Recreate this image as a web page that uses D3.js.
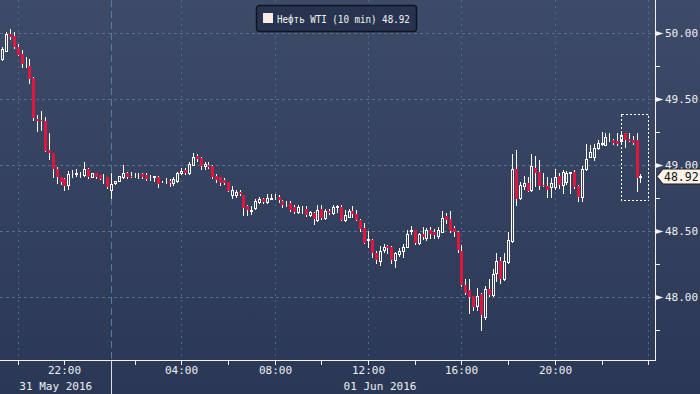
<!DOCTYPE html>
<html>
<head>
<meta charset="utf-8">
<script src="https://cdn.jsdelivr.net/npm/d3@7/dist/d3.min.js"></script>
<style>
body { margin: 0; background: #2b3956; }
svg { display: block; }
text { font-family: "DejaVu Sans Mono", "Liberation Mono", monospace; }
</style>
</head>
<body>
<div id="chart"></div>
<script>
// WTI 10-minute candles, 31 May 19:10 -> 01 Jun 23:40 (Moscow time), break 00:00-01:00
var seriesName = "Нефть WTI (10 min)";
var firstBar = "2016-05-31 19:10";
var sessionStart = "2016-05-31 20:00";
var sessionBreak = ["2016-06-01 00:00", "2016-06-01 01:00"];

var opens = [49.79,49.805,49.868,49.995,49.98,49.894,49.843,49.76,49.752,49.661,49.35,49.343,49.333,49.115,49.09,48.973,48.908,48.893,48.847,48.93,48.935,48.93,48.928,48.969,48.912,48.938,48.923,48.907,48.908,
  48.81,48.862,48.882,48.908,48.938,48.92,48.915,48.915,48.933,48.923,48.915,48.91,48.908,48.872,48.872,48.878,48.862,48.878,48.938,48.963,48.943,49.003,49.069,49.054,48.99,49.004,48.994,48.918,48.908,48.887,48.872,
  48.77,48.77,48.796,48.77,48.69,48.655,48.675,48.72,48.745,48.72,48.745,48.75,48.756,48.73,48.71,48.71,48.68,48.645,48.68,48.665,48.62,48.64,48.58,48.665,48.595,48.655,48.635,48.685,48.68,48.585,48.61,48.65,48.63,
  48.585,48.525,48.435,48.432,48.33,48.27,48.356,48.385,48.375,48.28,48.325,48.345,48.38,48.50,48.504,48.412,48.475,48.45,48.505,48.49,48.465,48.495,48.614,48.59,48.525,48.495,48.346,48.088,48.053,48.007,47.93,
  48.022,47.85,48.058,48.017,48.185,48.27,48.134,48.265,48.427,48.968,48.75,48.838,48.862,48.811,48.978,48.948,48.85,48.842,48.832,48.832,48.918,48.85,48.872,48.94,48.948,48.842,48.756,48.968,49.064,49.064,49.13,
  49.16,49.15,49.195,49.19,49.18,49.18,49.24,49.20,49.19,49.19,48.912];
var highs = [49.82,49.90,50.01,50.03,50.008,49.92,49.874,49.82,49.803,49.665,49.383,49.413,49.363,49.246,49.095,48.984,48.91,48.90,48.958,48.963,48.968,48.948,49.024,48.975,48.94,48.94,48.925,48.933,48.91,
  48.938,48.88,48.92,49.0,48.945,48.95,48.943,48.938,48.94,48.938,48.925,48.92,48.915,48.883,48.90,48.897,48.91,48.95,48.978,48.978,49.024,49.09,49.085,49.06,49.024,49.024,49.0,48.93,48.91,48.90,48.875,
  48.842,48.811,48.811,48.775,48.70,48.69,48.745,48.76,48.75,48.78,48.78,48.78,48.77,48.735,48.73,48.73,48.70,48.70,48.69,48.69,48.65,48.645,48.695,48.695,48.665,48.67,48.70,48.70,48.70,48.66,48.67,48.69,48.66,
  48.59,48.56,48.50,48.44,48.35,48.385,48.40,48.395,48.385,48.34,48.37,48.40,48.508,48.54,48.51,48.485,48.53,48.52,48.53,48.515,48.53,48.655,48.635,48.65,48.54,48.50,48.39,48.134,48.134,48.01,48.068,
  48.03,48.08,48.134,48.21,48.33,48.30,48.33,48.493,49.085,49.115,48.872,48.92,48.91,49.085,49.07,49.04,48.943,48.913,48.90,48.973,48.943,48.963,48.958,48.95,48.963,48.85,48.99,49.16,49.15,49.16,49.19,
  49.25,49.24,49.245,49.20,49.245,49.25,49.245,49.24,49.22,49.245,48.935];
var lows = [49.77,49.798,49.866,49.96,49.89,49.835,49.747,49.747,49.626,49.343,49.257,49.267,49.105,49.044,48.912,48.867,48.86,48.811,48.817,48.912,48.918,48.908,48.92,48.905,48.908,48.905,48.893,48.867,48.83,
  48.751,48.855,48.88,48.905,48.90,48.91,48.908,48.90,48.905,48.89,48.887,48.88,48.836,48.87,48.865,48.842,48.85,48.875,48.93,48.935,48.935,49.0,49.03,48.968,48.97,48.978,48.905,48.87,48.85,48.855,48.80,
  48.75,48.76,48.77,48.62,48.625,48.63,48.67,48.715,48.715,48.715,48.74,48.745,48.72,48.685,48.69,48.655,48.64,48.635,48.635,48.615,48.615,48.555,48.575,48.59,48.59,48.63,48.63,48.645,48.58,48.575,48.605,48.61,48.58,
  48.50,48.41,48.38,48.30,48.255,48.245,48.34,48.33,48.255,48.23,48.31,48.305,48.375,48.48,48.405,48.405,48.44,48.43,48.445,48.45,48.45,48.49,48.56,48.495,48.465,48.34,48.085,48.02,47.88,47.90,47.90,
  47.75,47.83,48.01,48.01,48.12,48.104,48.125,48.26,48.42,48.70,48.745,48.82,48.80,48.805,48.84,48.817,48.84,48.76,48.76,48.82,48.83,48.79,48.86,48.79,48.83,48.73,48.73,48.96,49.06,49.04,49.12,
  49.15,49.15,49.18,49.16,49.155,49.16,49.135,49.18,49.16,48.806,48.87];
var closes = [49.80,49.881,49.995,49.97,49.894,49.838,49.767,49.762,49.656,49.358,49.333,49.333,49.11,49.094,48.968,48.908,48.872,48.842,48.933,48.933,48.938,48.933,48.973,48.912,48.938,48.908,48.897,48.91,48.832,
  48.857,48.877,48.918,48.943,48.908,48.915,48.918,48.918,48.908,48.897,48.918,48.918,48.857,48.875,48.875,48.862,48.897,48.943,48.953,48.943,49.009,49.064,49.044,48.99,49.009,48.984,48.908,48.887,48.862,48.862,48.806,
  48.811,48.796,48.78,48.675,48.66,48.66,48.73,48.74,48.72,48.75,48.75,48.752,48.736,48.695,48.712,48.66,48.645,48.684,48.682,48.62,48.645,48.59,48.66,48.595,48.65,48.635,48.68,48.69,48.585,48.62,48.65,48.63,48.585,
  48.513,48.412,48.44,48.33,48.28,48.347,48.38,48.37,48.28,48.33,48.35,48.38,48.478,48.504,48.412,48.478,48.455,48.504,48.475,48.468,48.505,48.60,48.584,48.50,48.495,48.356,48.088,48.028,48.002,47.926,48.007,
  47.86,48.058,48.018,48.175,48.27,48.134,48.27,48.432,48.968,48.745,48.85,48.862,48.806,48.994,48.943,48.842,48.847,48.81,48.862,48.908,48.85,48.948,48.938,48.948,48.832,48.756,48.968,49.05,49.10,49.13,49.165,
  49.165,49.21,49.198,49.165,49.16,49.225,49.19,49.185,49.165,48.90,48.92];

var priceTicks = [48.0, 48.5, 49.0, 49.5, 50.0];
var minorPriceTicks = [47.75, 48.25, 48.75, 49.25, 49.75];
var gridTimes = ["2016-05-31 20:00", "2016-06-01 04:00", "2016-06-01 08:00", "2016-06-01 12:00",
  "2016-06-01 16:00", "2016-06-01 20:00", "2016-06-02 00:00"];
var dayBreak = "2016-06-01 00:00";
var tickTimes = ["2016-05-31 20:00", "2016-05-31 22:00", "2016-06-01 00:00", "2016-06-01 02:00", "2016-06-01 04:00",
  "2016-06-01 06:00", "2016-06-01 08:00", "2016-06-01 10:00", "2016-06-01 12:00", "2016-06-01 14:00",
  "2016-06-01 16:00", "2016-06-01 18:00", "2016-06-01 20:00", "2016-06-01 22:00", "2016-06-02 00:00"];
var timeLabels = ["2016-05-31 22:00", "2016-06-01 04:00", "2016-06-01 08:00", "2016-06-01 12:00",
  "2016-06-01 16:00", "2016-06-01 20:00"];
var dayLabels = ["31 May 2016", "01 Jun 2016"];
// dotted box around the last bars
var highlightTimes = ["2016-06-01 22:50", "2016-06-02 00:00"];
var highlightPrices = [49.39, 48.735];

var W = 700, H = 394;
var plotRight = 655.5, plotBottom = 360.5;

var parse = d3.timeParse("%Y-%m-%d %H:%M");
var t0 = parse(sessionStart), b0 = parse(sessionBreak[0]), b1 = parse(sessionBreak[1]);

// minutes of trading since session start (the break takes no room)
function sessionMinutes(t) {
  var m = (t - t0) / 60000;
  if (t >= b1) m -= (b1 - b0) / 60000;
  else if (t > b0) m = (b0 - t0) / 60000;
  return m;
}

// bar times
var bars = [];
var t = parse(firstBar);
while (bars.length < opens.length) {
  if (!(t >= b0 && t < b1)) {
    var k = bars.length;
    bars.push({ time: t, o: opens[k], h: highs[k], l: lows[k], c: closes[k] });
  }
  t = d3.timeMinute.offset(t, 10);
}

var x = d3.scaleLinear().domain([0, 1620]).range([18.3, 648.7]);
var y = d3.scaleLinear().domain([47.521, 50.253]).range([360, 0]);
function px(d) { return Math.floor(x(sessionMinutes(d))) + 0.5; }
function py(v) { return Math.round(y(v)) + 0.5; }

var svg = d3.select("#chart").append("svg").attr("width", W).attr("height", H);
var defs = svg.append("defs");
var grad = defs.append("linearGradient").attr("id", "bg")
  .attr("gradientUnits", "userSpaceOnUse").attr("x1", 0).attr("y1", 0).attr("x2", 0).attr("y2", H);
grad.append("stop").attr("offset", 0).attr("stop-color", "#3e4b68");
grad.append("stop").attr("offset", 1).attr("stop-color", "#2a3855");
defs.append("clipPath").attr("id", "plot").append("rect")
  .attr("x", 0).attr("y", 0).attr("width", plotRight).attr("height", plotBottom);
defs.append("clipPath").attr("id", "abovetag").append("rect")
  .attr("x", 600).attr("y", 0).attr("width", 100).attr("height", 169);

svg.append("rect").attr("width", W).attr("height", H).attr("fill", "url(#bg)");

// grid
var grid = svg.append("g").attr("shape-rendering", "crispEdges");
grid.selectAll("line.h").data(priceTicks).enter().append("line")
  .attr("x1", 0).attr("x2", plotRight)
  .attr("y1", function(d) { return py(d); }).attr("y2", function(d) { return py(d); })
  .attr("stroke", "#56708d").attr("stroke-dasharray", "3,3");
grid.selectAll("line.v").data(gridTimes).enter().append("line")
  .attr("x1", function(d) { return px(parse(d)); }).attr("x2", function(d) { return px(parse(d)); })
  .attr("y1", 0).attr("y2", plotBottom)
  .attr("stroke", "#4c6987").attr("stroke-dasharray", "2,4");
grid.append("line")
  .attr("x1", px(parse(dayBreak))).attr("x2", px(parse(dayBreak)))
  .attr("y1", 0).attr("y2", plotBottom)
  .attr("stroke", "#557c9e").attr("stroke-dasharray", "7,4");

// candles
var plot = svg.append("g").attr("clip-path", "url(#plot)").attr("shape-rendering", "crispEdges");
var candle = plot.selectAll("g.c").data(bars).enter().append("g");
candle.append("line")
  .attr("x1", function(d) { return px(d.time); }).attr("x2", function(d) { return px(d.time); })
  .attr("y1", function(d) { return Math.round(y(d.h)); })
  .attr("y2", function(d) { return Math.round(y(d.l)) + 1; })
  .attr("stroke", "#ffffff");
candle.append("rect")
  .attr("x", function(d) { return d.c >= d.o ? px(d.time) - 1 : px(d.time) - 1.5; })
  .attr("width", function(d) { return d.c >= d.o ? 2 : 3; })
  .attr("y", function(d) {
    var top = Math.round(y(Math.max(d.o, d.c)));
    return d.c >= d.o ? top + 0.5 : top;
  })
  .attr("height", function(d) {
    var h = Math.round(y(Math.min(d.o, d.c))) - Math.round(y(Math.max(d.o, d.c)));
    return d.c >= d.o ? Math.max(h, 0) : Math.max(h, 1);
  })
  .attr("fill", function(d) { return d.c >= d.o ? "url(#bg)" : "#e0163f"; })
  .attr("stroke", function(d) { return d.c >= d.o ? "#ffffff" : "none"; });

// highlight box
var hx0 = px(parse(highlightTimes[0])), hx1 = px(parse(highlightTimes[1]));
svg.append("rect")
  .attr("x", hx0).attr("y", py(highlightPrices[0]))
  .attr("width", hx1 - hx0).attr("height", py(highlightPrices[1]) - py(highlightPrices[0]))
  .attr("fill", "none").attr("stroke", "#ffffff").attr("stroke-dasharray", "2,2")
  .attr("shape-rendering", "crispEdges");

// axes lines
var axes = svg.append("g").attr("shape-rendering", "crispEdges").attr("stroke", "#f2f2f2");
axes.append("line").attr("x1", plotRight).attr("x2", plotRight).attr("y1", 0).attr("y2", plotBottom);
axes.append("line").attr("x1", 0).attr("x2", plotRight).attr("y1", plotBottom).attr("y2", plotBottom);
axes.selectAll("line.t").data(tickTimes).enter().append("line")
  .attr("x1", function(d) { return px(parse(d)); }).attr("x2", function(d) { return px(parse(d)); })
  .attr("y1", plotBottom).attr("y2", plotBottom + 4);
axes.append("line")
  .attr("x1", px(parse(dayBreak))).attr("x2", px(parse(dayBreak)))
  .attr("y1", plotBottom).attr("y2", H).attr("stroke", "#d8dde6");
axes.selectAll("line.m").data(minorPriceTicks).enter().append("line")
  .attr("x1", plotRight).attr("x2", plotRight + 4)
  .attr("y1", function(d) { return py(d); }).attr("y2", function(d) { return py(d); });

// right price axis
var last = closes[closes.length - 1];
var ly = py(last);
svg.selectAll("path.tri").data(priceTicks).enter().append("path")
  .attr("d", function(d) { var v = py(d); return "M" + plotRight + "," + (v - 2.5) + "L" + (plotRight + 8) + "," + v + "L" + plotRight + "," + (v + 2.5) + "Z"; })
  .attr("fill", "#f2f2f2");
// the label hidden by the last-price tag only shows its upper part
svg.selectAll("text.p").data(priceTicks).enter().append("text")
  .attr("x", 665).attr("y", function(d) { return py(d); }).attr("dy", "0.36em")
  .attr("clip-path", function(d) { return Math.abs(py(d) - ly) < 12 ? "url(#abovetag)" : null; })
  .attr("fill", "#eef0f4").attr("font-size", "11px")
  .text(function(d) { return d3.format(".2f")(d); });

// time axis
var fmt = d3.timeFormat("%H:%M");
svg.selectAll("text.t").data(timeLabels).enter().append("text")
  .attr("x", function(d) { return px(parse(d)); }).attr("y", 374)
  .attr("text-anchor", "middle").attr("fill", "#eef0f4").attr("font-size", "11px")
  .text(function(d) { return fmt(parse(d)); });
var dayEdges = [0, px(parse(dayBreak)), px(parse(gridTimes[gridTimes.length - 1]))];
svg.selectAll("text.d").data(dayLabels).enter().append("text")
  .attr("x", function(d, i) { return (dayEdges[i] + dayEdges[i + 1]) / 2; }).attr("y", 390)
  .attr("text-anchor", "middle").attr("fill", "#eef0f4").attr("font-size", "11px")
  .text(function(d) { return d; });

// last price tag
svg.append("path")
  .attr("d", "M657," + ly + "L663," + (ly - 7.5) + "L701," + (ly - 7.5) + "L701," + (ly + 7.5) + "L663," + (ly + 7.5) + "Z")
  .attr("fill", "#fdf3ea").attr("stroke", "#1a1a1a");
svg.append("text").attr("x", 664).attr("y", ly).attr("dy", "0.36em")
  .attr("fill", "#111").attr("font-size", "11.5px").text(d3.format(".2f")(last));

// legend
var lg = svg.append("g").attr("transform", "translate(256,5)");
lg.append("rect").attr("x", 0.5).attr("y", 0.5).attr("width", 160).attr("height", 26).attr("rx", 3)
  .attr("fill", "#28344f").attr("stroke", "#0e1422").attr("stroke-width", 1.5);
lg.append("rect").attr("x", 7).attr("y", 8).attr("width", 10).attr("height", 10).attr("fill", "#fcebe3");
var lgText = lg.append("text").attr("x", 0).attr("y", 0).attr("fill", "#f4f4f6")
  .style("font-size", "11px")
  .text(seriesName + " " + d3.format(".2f")(last));
// stretch the legend text to the width it has in the box
var lgWidth = lgText.node().getComputedTextLength();
lgText.attr("transform", "translate(21,17.5) scale(" + (133 / lgWidth) + ",1)");
</script>
</body>
</html>
